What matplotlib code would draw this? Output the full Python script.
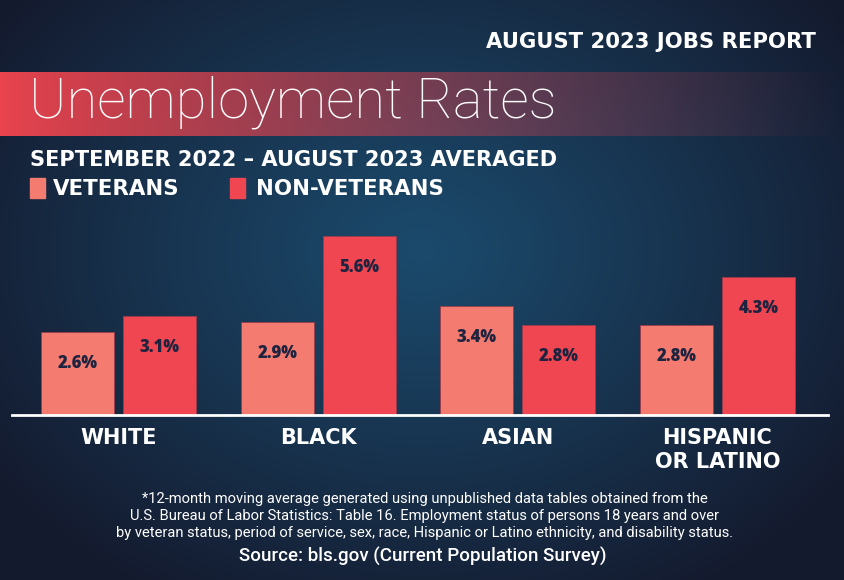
import numpy as np
import matplotlib
matplotlib.use("Agg")
import matplotlib.pyplot as plt
from matplotlib.colors import to_rgb
import matplotlib.transforms as mtransforms

# ---- data ----
categories = ["WHITE", "BLACK", "ASIAN", "HISPANIC\nOR LATINO"]
veterans = [2.6, 2.9, 3.4, 2.8]
non_veterans = [3.1, 5.6, 2.8, 4.3]
series_names = ["VETERANS", "NON-VETERANS"]
header = "AUGUST 2023 JOBS REPORT"
title = "Unemployment Rates"
subtitle = "SEPTEMBER 2022 \u2013 AUGUST 2023 AVERAGED"
footnote = ("*12-month moving average generated using unpublished data tables obtained from the\n"
            "U.S. Bureau of Labor Statistics: Table 16. Employment status of persons 18 years and over\n"
            "by veteran status, period of service, sex, race, Hispanic or Latino ethnicity, and disability status.")
source = "Source: bls.gov (Current Population Survey)"

VET_C = "#f47b6f"
NON_C = "#f04651"
LABEL_C = "#1e2440"
HF = "DejaVu Sans"

W, H = 845, 580
fig = plt.figure(figsize=(W / 100, H / 100), dpi=100)

# ---- background radial gradient ----
bg = fig.add_axes([0, 0, 1, 1], zorder=0)
yy, xx = np.mgrid[0:H, 0:W]
d = np.sqrt(((xx - 420) / 520.0) ** 2 + ((yy - 250) / 400.0) ** 2)
t = np.clip(d, 0, 1) ** 1.1
c_in = np.array(to_rgb("#1b4a6c"))
c_out = np.array(to_rgb("#141a2e"))
img = c_in[None, None, :] * (1 - t[..., None]) + c_out[None, None, :] * t[..., None]
bg.imshow(img, extent=[0, W, H, 0], aspect="auto")

# title band gradient (red -> transparent)
band = np.zeros((1, W, 4))
xs = np.linspace(0, 1, W)
red = np.array(to_rgb("#f0454f"))
band[0, :, :3] = red
band[0, :, 3] = np.clip(1 - xs ** 0.85, 0, 1) * 0.98
bg.imshow(band, extent=[0, W, 136, 72], aspect="auto")
bg.set_xlim(0, W)
bg.set_ylim(H, 0)
bg.axis("off")

# ---- texts ----
def px(x, y):
    return x / W, 1 - y / H

fig.text(*px(816, 42), header, ha="right", va="center", color="white",
         fontsize=15.2, fontweight="bold", family=HF)
fig.text(*px(29, 102), title, ha="left", va="center", color="white",
         fontsize=40.4, fontweight="light", family="Roboto")
fig.text(*px(30, 160), subtitle, ha="left", va="center", color="white",
         fontsize=15.1, fontweight="bold", family=HF)

# legend
for i, (name, col, x0, gap) in enumerate(zip(series_names, [VET_C, NON_C], [30, 230], [23, 26])):
    fig.patches.append(plt.Rectangle(px(x0, 198), 15 / W, 20 / H, color=col,
                                     transform=fig.transFigure, zorder=2))
    fig.text(*px(x0 + gap, 189), name, ha="left", va="center", color="white",
             fontsize=15.4, fontweight="bold", family=HF)

fig.text(*px(425, 516), footnote, ha="center", va="center", color="white",
         fontsize=10.6, family="Roboto", linespacing=1.3)
fig.text(*px(423, 556), source, ha="center", va="center", color="white",
         fontsize=13.5, fontweight="medium", family="Roboto")

# ---- bar axes ----
left_px, right_px = 12, 828
base_px, top_px = 415, 215
ax = fig.add_axes([left_px / W, 1 - base_px / H, (right_px - left_px) / W,
                   (base_px - top_px) / H], zorder=1)
ax.patch.set_alpha(0)
unit = (717.5 - 118.5) / 3
ax.set_xlim(-(118.5 - left_px) / unit, 3 + (right_px - 717.5) / unit)
ax.set_ylim(0, (base_px - top_px) / 32.0)
x = np.arange(len(categories))
bw = 73 / unit
off = 41 / unit
b1 = ax.bar(x - off, veterans, bw, color=VET_C, edgecolor="#9a3c4c", linewidth=0.6)
b2 = ax.bar(x + off, non_veterans, bw, color=NON_C, edgecolor="#9a3c4c", linewidth=0.6)
for bars, vals in [(b1, veterans), (b2, non_veterans)]:
    for r, v in zip(bars, vals):
        ax.annotate(f"{v:.1f}%", (r.get_x() + r.get_width() / 2, v),
                    xytext=(0, -22.5), textcoords="offset points",
                    ha="center", va="center", color=LABEL_C,
                    fontsize=12, fontweight="heavy", family="Open Sans")
ax.axhline(0, color="white", linewidth=2, clip_on=False, zorder=3)
trans = mtransforms.blended_transform_factory(ax.transData, ax.transAxes)
for xi, cat in zip(x, categories):
    ax.annotate(cat, (xi, 0), xycoords=trans, xytext=(0, -9),
                textcoords="offset points", ha="center", va="top",
                color="white", fontsize=15, fontweight="bold", family=HF,
                linespacing=1.25)
for s in ax.spines.values():
    s.set_visible(False)
ax.set_xticks([])
ax.set_yticks([])

fig.savefig("out.png", dpi=100)
